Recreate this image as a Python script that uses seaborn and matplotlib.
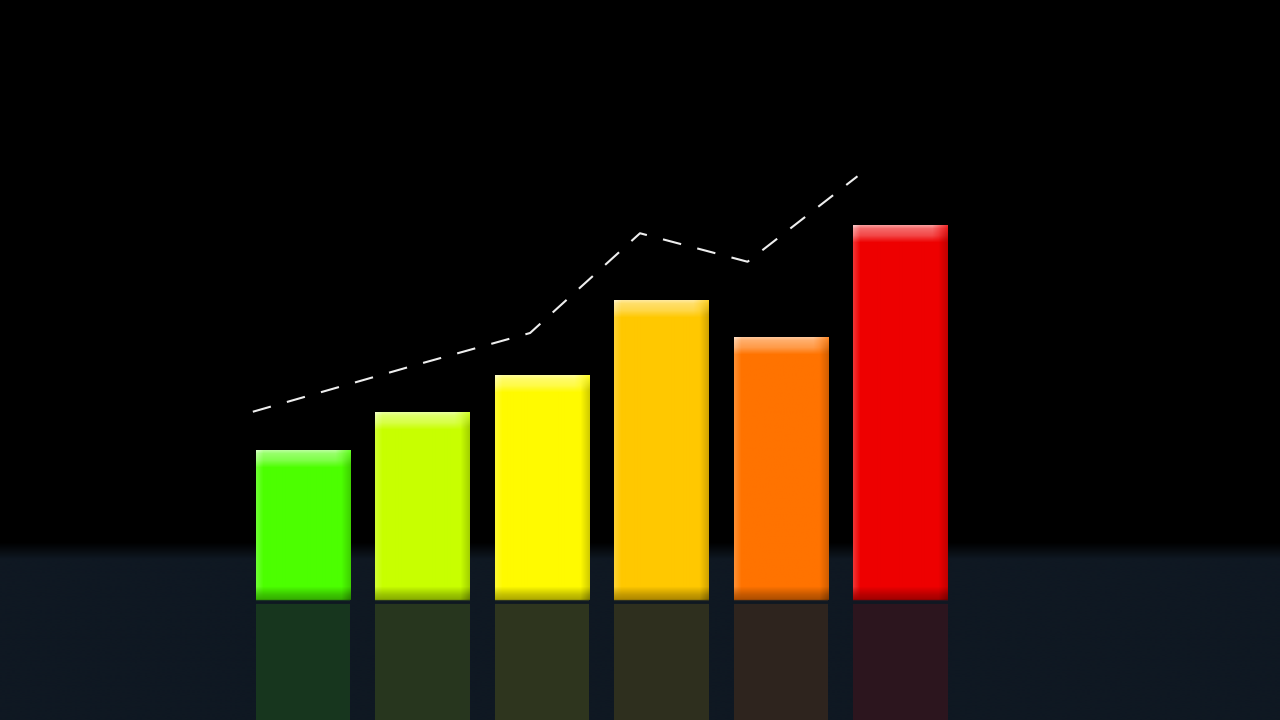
import numpy as np
import pandas as pd
import matplotlib
matplotlib.use("Agg")
import matplotlib.pyplot as plt
import seaborn as sns
from matplotlib.colors import to_rgb

# ---- data ----
categories = ["A", "B", "C", "D", "E", "F"]
values = [2.0, 2.5, 3.0, 4.0, 3.5, 5.0]
bar_colors = ["#4cff00", "#c8ff00", "#fffa00", "#ffc800", "#ff7300", "#ee0000"]
trend_x = [-0.42, 0.98, 1.90, 2.82, 3.72, 4.64]
trend_y = [2.51, 3.15, 3.56, 4.89, 4.51, 5.65]

floor_color = np.array(to_rgb("#0f1822"))

sns.set_theme(style="white")
fig = plt.figure(figsize=(12.8, 7.2), dpi=100)
fig.patch.set_facecolor("black")
ax = fig.add_axes([0, 0, 1, 1])
ax.set_facecolor("black")

XMIN, XMAX = -2.536, 8.176
YMIN, YMAX = -1.6, 8.0
horizon = 0.667

# floor with soft horizon
n = 200
fy = np.linspace(YMIN, horizon + 0.1, n)
t = np.clip((horizon + 0.1 - fy) / 0.22, 0, 1)
floor_img = (floor_color[None, :] * t[:, None])
floor_img = np.repeat(floor_img[:, None, :], 2, axis=1)
ax.imshow(floor_img[::-1], extent=[XMIN, XMAX, YMIN, horizon + 0.1],
          aspect="auto", zorder=0, interpolation="bilinear")

df = pd.DataFrame({"cat": categories, "val": values,
                   "neg": [-v for v in values]})

# reflections
refl_colors = [tuple(floor_color * 0.87 + np.array(to_rgb(c)) * 0.13) for c in bar_colors]
sns.barplot(data=df, x="cat", y="neg", hue="cat", palette=refl_colors,
            width=0.79, legend=False, ax=ax, saturation=1, zorder=1,
            linewidth=0)
n_refl = len(ax.patches)

# main bars
sns.barplot(data=df, x="cat", y="val", hue="cat", palette=bar_colors,
            width=0.79, legend=False, ax=ax, saturation=1, zorder=2,
            linewidth=0)

# glossy overlay on each main bar
px_per_x = 1280 / (XMAX - XMIN)
px_per_y = 720 / (YMAX - YMIN)
main_patches = ax.patches[n_refl:]
for p, c in zip(main_patches, bar_colors):
    x0, w, h = p.get_x(), p.get_width(), p.get_height()
    W = max(int(round(w * px_per_x)), 2)
    H = max(int(round(h * px_per_y)), 2)
    yy, xx = np.mgrid[0:H, 0:W].astype(float)
    base = np.array(to_rgb(c))
    # white highlights: top band with bevelled ends
    top = np.interp(yy, [0, 3, 10, 17], [0.6, 0.42, 0.28, 0.0])
    bev_r = np.clip((xx - (W - 16)) / 16.0, 0, 1)
    top = top * (1 - 0.75 * bev_r)
    left = 0.2 * np.clip(1 - xx / 7.0, 0, 1) * np.clip((H - yy) / 14.0, 0, 1)
    aw = np.clip(top + left, 0, 0.75)
    # dark shading
    right = 0.2 * np.clip(1 - (W - xx) / 10.0, 0, 1) * np.clip(yy / 14.0, 0, 1)
    bottom = np.interp(H - yy, [0, 2, 6, 14], [0.45, 0.3, 0.22, 0.0])
    ab = np.clip(right + bottom, 0, 0.55)
    img = base[None, None, :] + (1 - base[None, None, :]) * aw[..., None]
    img = img * (1 - ab[..., None])
    ax.imshow(img, extent=[x0, x0 + w, 0, h], aspect="auto", zorder=3,
              interpolation="bilinear")

# baseline gap between bars and reflections
ax.axhline(-0.02, color=tuple(floor_color), linewidth=2.0, zorder=3.5)

# dashed trend line
sns.lineplot(x=trend_x, y=trend_y, ax=ax, color="#eeeeee", linewidth=1.5,
             zorder=5, sort=False)
ax.lines[-1].set_dashes((9, 8))

ax.set_xlim(XMIN, XMAX)
ax.set_ylim(YMIN, YMAX)
ax.axis("off")

fig.savefig("out.png", dpi=100, facecolor="black")
